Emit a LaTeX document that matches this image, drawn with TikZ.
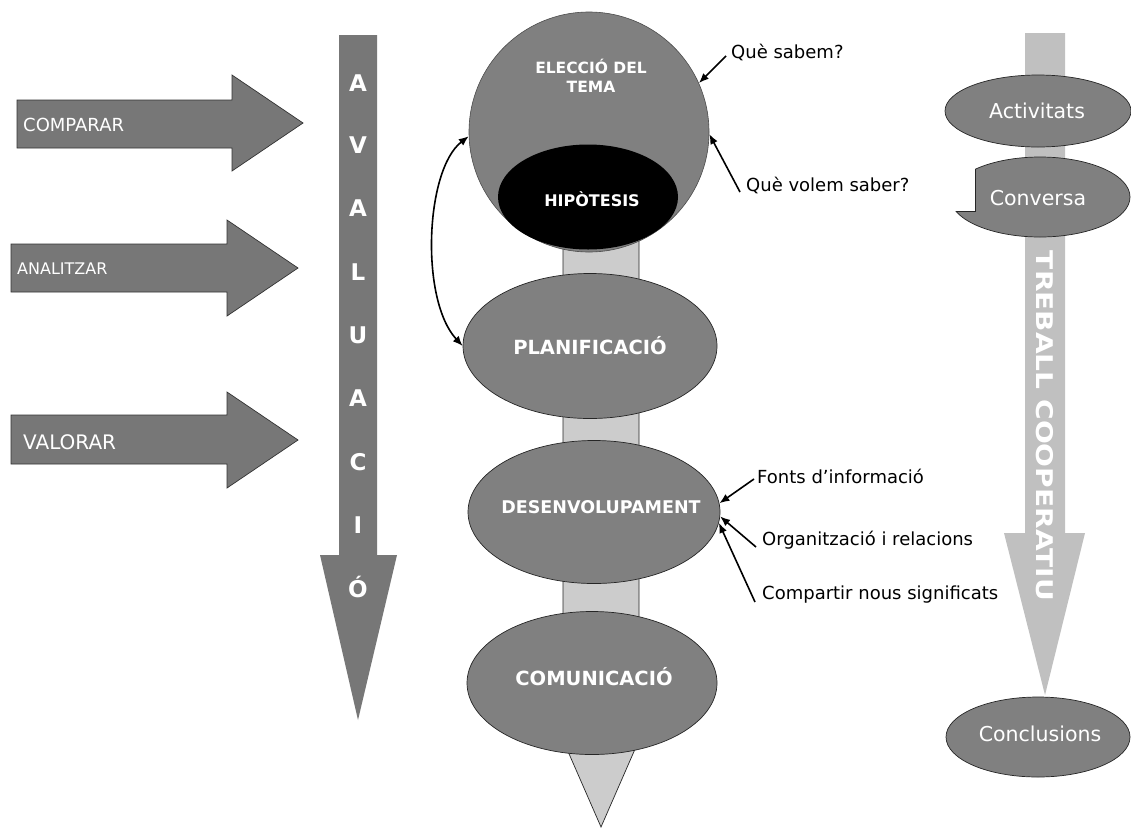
\documentclass[tikz,border=0pt]{standalone}
\usepackage{fontspec}
\setmainfont{DejaVu Sans}
\usetikzlibrary{shapes.geometric,arrows.meta}
\definecolor{dgray}{HTML}{777777}
\definecolor{egray}{HTML}{808080}
\definecolor{lgray}{HTML}{CCCCCC}
\definecolor{tgray}{HTML}{C0C0C0}
\begin{document}
\begin{tikzpicture}[x=1pt,y=-1pt,
  bigarrow/.style={fill=dgray, draw=black!80, line width=0.7pt},
  ell/.style={ellipse, fill=egray, draw=black!85, line width=0.7pt, inner sep=0pt},
  wbold/.style={text=white, inner sep=0pt, font=\bfseries\fontsize{#1}{#1}\selectfont},
  wreg/.style={text=white, inner sep=0pt, font=\fontsize{#1}{#1}\selectfont},
  annot/.style={anchor=west, inner sep=0pt, font=\fontsize{18}{21}\selectfont},
  arr/.style={-{Latex[length=10pt,width=8pt]}, line width=1.6pt},
  dblarr/.style={{Latex[length=10pt,width=8pt]}-{Latex[length=10pt,width=8pt]}, line width=1.6pt},
  avl/.style={text=white, inner sep=0pt, font=\bfseries\fontsize{23}{23}\selectfont}
]
\useasboundingbox (0,0) rectangle (1131,828);
\fill[white] (0,0) rectangle (1131,828);

% left arrows
\draw[bigarrow] (17,100) -- (232,100) -- (232,75) -- (303,123) -- (232,171) -- (232,148) -- (17,148) -- cycle;
\draw[bigarrow] (11,244) -- (227,244) -- (227,220) -- (298,268) -- (227,316) -- (227,292) -- (11,292) -- cycle;
\draw[bigarrow] (11,415) -- (227,415) -- (227,392) -- (298,440) -- (227,488) -- (227,464) -- (11,464) -- cycle;
\node[wreg=18, anchor=west] (comparar) at (23,125) {COMPARAR};
\node[wreg=16, anchor=west] (analitzar) at (17,269) {ANALITZAR};
\node[wreg=20, anchor=west] (valorar) at (23,442) {VALORAR};

% AVALUACIO arrow
\fill[dgray] (339,35) -- (377,35) -- (377,555) -- (397,555) -- (358,720) -- (320,555) -- (339,555) -- cycle;
\node[avl] (av1) at (358,83) {A};
\node[avl] (av2) at (358,145) {V};
\node[avl] (av3) at (358,208) {A};
\node[avl] (av4) at (358,272) {L};
\node[avl] (av5) at (358,335) {U};
\node[avl] (av6) at (358,398) {A};
\node[avl] (av7) at (358,462) {C};
\node[avl] (av8) at (358,525) {I};
\node[avl] (av9) at (358,587) {Ó};

% central bar
\draw[fill=lgray, draw=black!85, line width=0.7pt] (563,200) -- (639,200) -- (639,740) -- (601,827) -- (563,740) -- cycle;

% big circle and hypothesis
\node[circle, fill=egray, draw=black!70, line width=0.6pt, minimum size=240pt, inner sep=0pt] (elec) at (589,132) {};
\node[wbold=15.5, align=center] (electxt) at (591,76) {ELECCIÓ DEL\\[3pt]TEMA};
\node[ellipse, fill=black, inner sep=0pt, minimum width=180pt, minimum height=105pt] (hip) at (588,197) {};
\node[wbold=16] (hiptxt) at (592,199) {HIPÒTESIS};

% stages
\node[ell, minimum width=254pt, minimum height=145pt] (plan) at (590,346) {};
\node[wbold=19.5] at (plan) {PLANIFICACIÓ};
\node[ell, minimum width=252pt, minimum height=143pt] (desen) at (594,512) {};
\node[wbold=17.5] at (601,507) {DESENVOLUPAMENT};
\node[ell, minimum width=250pt, minimum height=143pt] (comu) at (592,683) {};
\node[wbold=19.5] at (594,677) {COMUNICACIÓ};

% double arrow
\draw[dblarr] (elec.182) .. controls (425,170) and (420,300) .. (plan.west);

% annotations top
\node[annot] (sabem) at (731,52) {Què sabem?};
\node[annot] (volem) at (746,185) {Què volem saber?};
\draw[arr] (sabem.west) ++(-5,4) coordinate (s1) (s1) -- (elec.24);
\draw[arr] (volem.west) ++(-6,7) coordinate (v1) (v1) -- (elec.-1);

% annotations DESENVOLUPAMENT
\node[annot] (fonts) at (757,476) {Fonts d’informació};
\node[annot] (org) at (762,540) {Organització i relacions};
\node[annot] (comp) at (762,595) {Compartir nous significats};
\draw[arr] (fonts.west) ++(-3,3) coordinate (f1) (f1) -- (desen.4);
\draw[arr] (org.west) ++(-6,7) coordinate (o1) (o1) -- (desen.-2);
\draw[arr] (comp.west) ++(-7,7) coordinate (c1) (c1) -- (desen.-5);

% TREBALL COOPERATIU arrow
\fill[tgray] (1025,33) -- (1065,33) -- (1065,533) -- (1085,533) -- (1045,695) -- (1004,533) -- (1025,533) -- cycle;
\node[wbold=23, rotate=-90] (treball) at (1045,426) {\scalebox{1.22}[1]{TREBALL COOPERATIU}};

% right ellipses
\node[ell, minimum width=186pt, minimum height=72pt] (activ) at (1038,111) {};
\node[wreg=20.5] at (1037,111) {Activitats};
\begin{scope}
  \clip (975,140) -- (1140,140) -- (1140,250) -- (940,250) -- (940,211) -- (975,211) -- cycle;
  \filldraw[fill=egray, draw=black!85, line width=0.7pt] (1040,197) ellipse [x radius=90, y radius=40];
\end{scope}
\draw[black!85, line width=0.7pt] (975,169.3) -- (975,211) -- (955.7,211);
\node[wreg=20.5] (conv) at (1038,198) {Conversa};
\node[ell, minimum width=184pt, minimum height=80pt] (concl) at (1038,737) {};
\node[wreg=20.5] at (1040,734) {Conclusions};
\end{tikzpicture}
\end{document}
